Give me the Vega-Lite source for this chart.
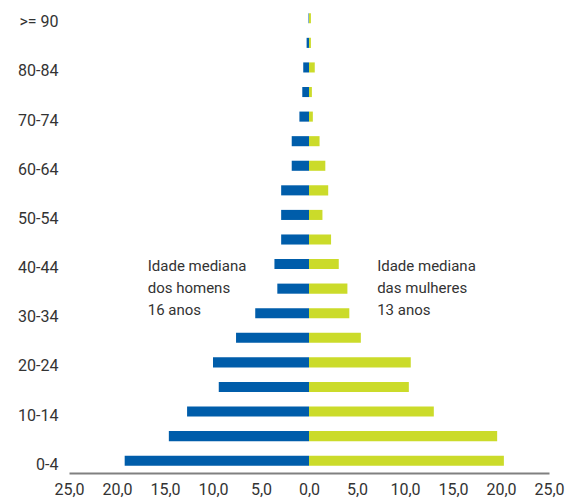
{
  "$schema": "https://vega.github.io/schema/vega-lite/v6.json",
  "width": 480,
  "height": 467,
  "autosize": {"type": "none"},
  "padding": {"left": 69, "top": 6, "right": 22, "bottom": 28},
  "background": "white",
  "config": {
    "view": {"stroke": null},
    "font": "Roboto",
    "axis": {"grid": false, "labelFont": "Roboto", "labelColor": "#333333", "labelFontSize": 16}
  },
  "datasets": {
    "pop": [
      {"age": "0-4", "sex": "Homens", "pct": -19.2},
      {"age": "5-9", "sex": "Homens", "pct": -14.6},
      {"age": "10-14", "sex": "Homens", "pct": -12.7},
      {"age": "15-19", "sex": "Homens", "pct": -9.4},
      {"age": "20-24", "sex": "Homens", "pct": -10.0},
      {"age": "25-29", "sex": "Homens", "pct": -7.6},
      {"age": "30-34", "sex": "Homens", "pct": -5.6},
      {"age": "35-39", "sex": "Homens", "pct": -3.3},
      {"age": "40-44", "sex": "Homens", "pct": -3.6},
      {"age": "45-49", "sex": "Homens", "pct": -2.9},
      {"age": "50-54", "sex": "Homens", "pct": -2.9},
      {"age": "55-59", "sex": "Homens", "pct": -2.9},
      {"age": "60-64", "sex": "Homens", "pct": -1.8},
      {"age": "65-69", "sex": "Homens", "pct": -1.8},
      {"age": "70-74", "sex": "Homens", "pct": -1.0},
      {"age": "75-79", "sex": "Homens", "pct": -0.7},
      {"age": "80-84", "sex": "Homens", "pct": -0.6},
      {"age": "85-89", "sex": "Homens", "pct": -0.25},
      {"age": ">= 90", "sex": "Homens", "pct": -0.05},
      {"age": "0-4", "sex": "Mulheres", "pct": 20.3},
      {"age": "5-9", "sex": "Mulheres", "pct": 19.6},
      {"age": "10-14", "sex": "Mulheres", "pct": 13.0},
      {"age": "15-19", "sex": "Mulheres", "pct": 10.4},
      {"age": "20-24", "sex": "Mulheres", "pct": 10.6},
      {"age": "25-29", "sex": "Mulheres", "pct": 5.4},
      {"age": "30-34", "sex": "Mulheres", "pct": 4.2},
      {"age": "35-39", "sex": "Mulheres", "pct": 4.0},
      {"age": "40-44", "sex": "Mulheres", "pct": 3.1},
      {"age": "45-49", "sex": "Mulheres", "pct": 2.3},
      {"age": "50-54", "sex": "Mulheres", "pct": 1.4},
      {"age": "55-59", "sex": "Mulheres", "pct": 2.0},
      {"age": "60-64", "sex": "Mulheres", "pct": 1.7},
      {"age": "65-69", "sex": "Mulheres", "pct": 1.1},
      {"age": "70-74", "sex": "Mulheres", "pct": 0.4},
      {"age": "75-79", "sex": "Mulheres", "pct": 0.3},
      {"age": "80-84", "sex": "Mulheres", "pct": 0.6},
      {"age": "85-89", "sex": "Mulheres", "pct": 0.2},
      {"age": ">= 90", "sex": "Mulheres", "pct": 0.2}
    ],
    "notes": [
      {"age": "40-44", "pct": -16.8, "label": "Idade mediana\ndos homens\n16 anos"},
      {"age": "40-44", "pct": 7.1, "label": "Idade mediana\ndas mulheres\n13 anos"}
    ]
  },
  "encoding": {
    "y": {
      "field": "age",
      "type": "nominal",
      "sort": [">= 90", "85-89", "80-84", "75-79", "70-74", "65-69", "60-64", "55-59", "50-54", "45-49", "40-44", "35-39", "30-34", "25-29", "20-24", "15-19", "10-14", "5-9", "0-4"],
      "scale": {"paddingInner": 0.59, "paddingOuter": 0.295},
      "axis": {
        "title": null,
        "domain": false,
        "ticks": false,
        "labelPadding": 11,
        "labelOffset": 4,
        "values": ["0-4", "10-14", "20-24", "30-34", "40-44", "50-54", "60-64", "70-74", "80-84", ">= 90"]
      }
    }
  },
  "layer": [
    {
      "data": {"name": "pop"},
      "mark": {"type": "bar"},
      "encoding": {
        "x": {
          "field": "pct",
          "type": "quantitative",
          "scale": {"domain": [-25, 25], "nice": false, "zero": false},
          "axis": {
            "title": null,
            "values": [-25, -20, -15, -10, -5, 0, 5, 10, 15, 20, 25],
            "labelExpr": "replace(format(abs(datum.value), '.1f'), '.', ',')",
            "labelFlush": false,
            "labelOverlap": false,
            "ticks": false,
            "domainColor": "#808080",
            "domainWidth": 2,
            "labelPadding": 8
          }
        },
        "color": {
          "field": "sex",
          "type": "nominal",
          "scale": {"domain": ["Homens", "Mulheres"], "range": ["#005DAA", "#CBDB2A"]},
          "legend": null
        }
      }
    },
    {
      "mark": {"type": "rule", "color": "#808080", "strokeWidth": 2},
      "encoding": {"x": {"datum": 0, "type": "quantitative"}}
    },
    {
      "data": {"name": "notes"},
      "mark": {"type": "text", "align": "left", "baseline": "middle", "dy": 2, "fontSize": 15, "lineHeight": 22, "lineBreak": "\n", "color": "#333333", "font": "Roboto"},
      "encoding": {
        "x": {"field": "pct", "type": "quantitative"},
        "text": {"field": "label"}
      }
    }
  ]
}
